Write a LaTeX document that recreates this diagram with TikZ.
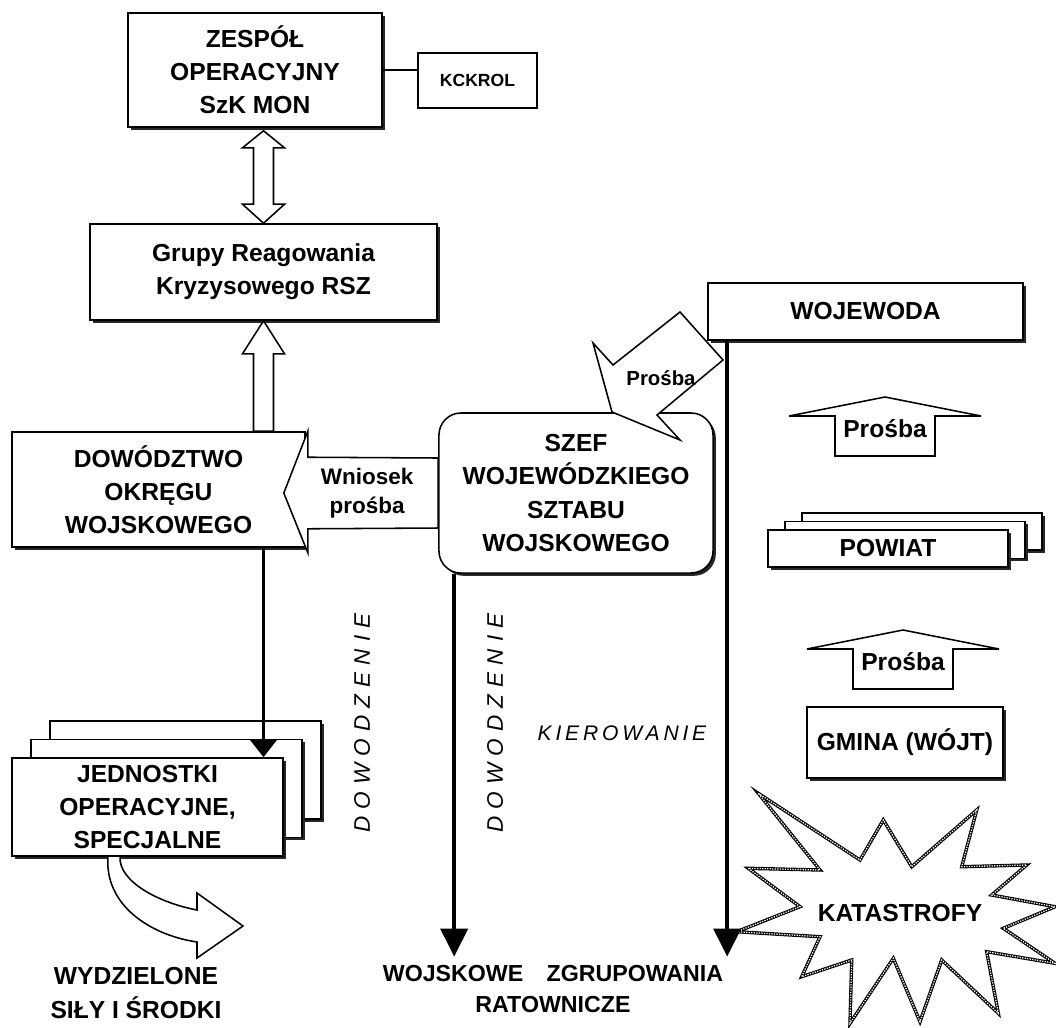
\documentclass[tikz,border=0pt]{standalone}
\usepackage{fontspec}
\setmainfont{Liberation Sans}
\usetikzlibrary{arrows.meta,calc,shadows}

\begin{document}
\begin{tikzpicture}[x=0.025cm,y=-0.025cm,line width=1.1pt,
    font=\bfseries\fontsize{17.5}{23.5}\selectfont]
    \tikzstyle{every node}=[align=center]
    \tikzstyle{org}=[draw,fill=white,inner sep=0pt,
        drop shadow={shadow xshift=0.07cm,shadow yshift=-0.07cm,fill=black!85,opacity=1}]
    \tikzstyle{blockarrow}=[draw,fill=white]
    \tikzstyle{cmd}=[line width=2.6pt,-{Triangle[length=0.7cm,width=0.68cm]}]
    \tikzstyle{cmd small}=[line width=2.6pt,-{Triangle[length=0.45cm,width=0.68cm]}]
    \tikzstyle{burst}=[draw,fill=white,line width=2.4pt,
        postaction={draw=white,line width=0.9pt,dash pattern=on 0.9pt off 0.9pt}]
    \tikzstyle{vlabel}=[font=\mdseries\itshape\fontsize{16}{18}\selectfont\addfontfeature{LetterSpace=32}]

    \useasboundingbox (0,0) rectangle (1056,1027);

    %%%%%%%%%%%%%%%%%%%%%%%%%%%%%%%%%%%%%%%%%%%%
    %%% DRAW THE NODES
    %%%%%%%%%%%%%%%%%%%%%%%%%%%%%%%%%%%%%%%%%%%%
    \node[org,minimum width=6.35cm,minimum height=2.85cm] (zesp) at (255,70) {ZESPÓŁ\\OPERACYJNY\\SzK MON};
    \node[draw,fill=white,minimum width=2.975cm,minimum height=1.375cm,
        font=\bfseries\fontsize{12.5}{15}\selectfont] (kck) at (477.5,80.5) {KCKROL};
    \node[org,minimum width=8.675cm,minimum height=2.4cm] (grupy) at (263.5,272) {Grupy Reagowania\\Kryzysowego RSZ};
    \node[org,minimum width=7.325cm,minimum height=2.875cm] (dow) at (158.5,489.5) {DOWÓDZTWO\\OKRĘGU\\WOJSKOWEGO};
    \node[org,rounded corners=0.55cm,minimum width=6.85cm,minimum height=4cm] (szef) at (576,493)
        {SZEF\\WOJEWÓDZKIEGO\\SZTABU\\WOJSKOWEGO};
    \node[org,minimum width=7.875cm,minimum height=1.425cm] (woj) at (865.5,311.5) {WOJEWODA};

    \foreach \i in {2,1}
        \node[org,minimum width=6cm,minimum height=0.925cm] (pow-\i) at ($(888,548.5)+(17*\i,-8.5*\i)$) {};
    \node[org,minimum width=6cm,minimum height=0.925cm] (pow) at (888,548.5) {POWIAT};

    \node[org,minimum width=4.9cm,minimum height=1.775cm] (gmina) at (905,742.5) {GMINA (WÓJT)};

    \foreach \i in {2,1}
        \node[org,minimum width=6.775cm,minimum height=2.45cm] (jed-\i) at ($(147.5,807)+(19*\i,-18.5*\i)$) {};
    \node[org,minimum width=6.775cm,minimum height=2.45cm] (jed) at (147.5,807) {JEDNOSTKI\\OPERACYJNE,\\SPECJALNE};

    \node (wydz) at (136,993) {WYDZIELONE\\SIŁY I ŚRODKI};
    \node[inner sep=0pt,font=\bfseries\fontsize{16.5}{22}\selectfont] (zgr) at (553,989) {WOJSKOWE\quad ZGRUPOWANIA\\RATOWNICZE};

    % catastrophe burst
    \draw[burst] (758.3,793.3) -- (860,860) -- (883.3,820) -- (911.7,866.7) -- (976.7,810)
        -- (961.7,866.7) -- (1026.7,865) -- (991.7,895) -- (1055,906.7) -- (1003.3,928.3)
        -- (1055,963.3) -- (986.7,951.7) -- (998.3,1013.3) -- (941.7,960) -- (920,1021.7)
        -- (893.3,958.3) -- (850,1023.3) -- (851.7,960) -- (801.7,976.7) -- (820,936.7)
        -- (736.7,931.7) -- (800,906.7) -- (748.3,868.3) -- (820,870) -- cycle;
    \node (kat) at (900,913) {KATASTROFY};

    %%%%%%%%%%%%%%%%%%%%%%%%%%%%%%%%%%%%%%%%%%%%
    %%% DRAW THE PATHS
    %%%%%%%%%%%%%%%%%%%%%%%%%%%%%%%%%%%%%%%%%%%%
    \draw (zesp.east) -- (zesp.east -| kck.west);

    % zespol <-> grupy
    \coordinate (t1) at (zesp.south -| grupy.north);
    \coordinate (b1) at (grupy.north);
    \draw[blockarrow] ($(t1)+(0,3)$) -- ++(21,17) -- ++(-11,0) -- ($(b1)+(10,-19)$) -- ++(11,0)
        -- (b1) -- ++(-21,-19) -- ++(11,0) -- ($(t1)+(-10,20)$) -- ++(-11,0) -- cycle;

    % dowodztwo -> grupy
    \coordinate (d1) at (dow.north -| grupy.south);
    \draw[blockarrow] (grupy.south) -- ++(21,33) -- ++(-11,0) -- ($(d1)+(10,0)$)
        -- ($(d1)+(-10,0)$) -- ($(grupy.south)+(-10,33)$) -- ++(-11,0) -- cycle;

    % szef -> dowodztwo
    \coordinate (w1) at (szef.west);
    \draw[blockarrow] ($(w1)+(0,-35)$) -- ($(dow.north east)+(2,26)$) -- ($(dow.north east)+(2,0)$)
        -- ($(dow.east)+(-22,3.5)$) -- ($(dow.south east)+(2,5)$) -- ($(dow.south east)+(2,-19)$)
        -- ($(w1)+(0,35)$) -- cycle;
    \node[font=\bfseries\fontsize{16}{21}\selectfont] (wn) at ($(w1)+(-71,0)$) {Wniosek\\prośba};

    % wojewoda -> szef
    \draw[blockarrow] (680,312) -- (723,360) -- (657,415) -- (680,440) -- (612,412)
        -- (593,343) -- (613,365) -- cycle;
    \node[font=\bfseries\fontsize{14.5}{17}\selectfont] (pr) at (661,378) {Prośba};

    % gmina -> powiat -> wojewoda
    \foreach \name/\x/\y in {a/885/397,b/903/630}{
        \draw[blockarrow] (\x,\y) -- ++(96,19) -- ++(-46,0) -- ++(0,40) -- ++(-100,0)
            -- ++(0,-40) -- ++(-46,0) -- cycle;
        \node (pr-\name) at (\x,\y+32) {Prośba};
    }

    % command lines
    \coordinate (d2) at (dow.south -| grupy.south);
    \draw[cmd small] (d2) -- (jed.north -| grupy.south);
    \coordinate (zt) at ($(zgr.north)+(0,-8)$);
    \coordinate (s1) at ($(szef.south west)+(16,0)$);
    \coordinate (s2) at ($(woj.south west)+(20,0)$);
    \draw[cmd] (s1) -- (s1 |- zt);
    \draw[cmd] (s2) -- (s2 |- zt);

    % forces set aside
    \draw[blockarrow] (108,856) .. controls (104,905) and (150,935) .. (197,942) -- (197,958)
        -- (243,926) -- (197,893) -- (197,910) .. controls (160,903) and (118,882) .. (120,856) -- cycle;

    % Annotate the lines
    \node[vlabel,rotate=90] (dz1) at (362,723) {DOWODZENIE};
    \node[vlabel,rotate=90] (dz2) at (495,723) {DOWODZENIE};
    \node[vlabel,font=\mdseries\itshape\fontsize{15}{17}\selectfont\addfontfeature{LetterSpace=18}] (kier) at (622,733) {KIEROWANIE};
\end{tikzpicture}
\end{document}
